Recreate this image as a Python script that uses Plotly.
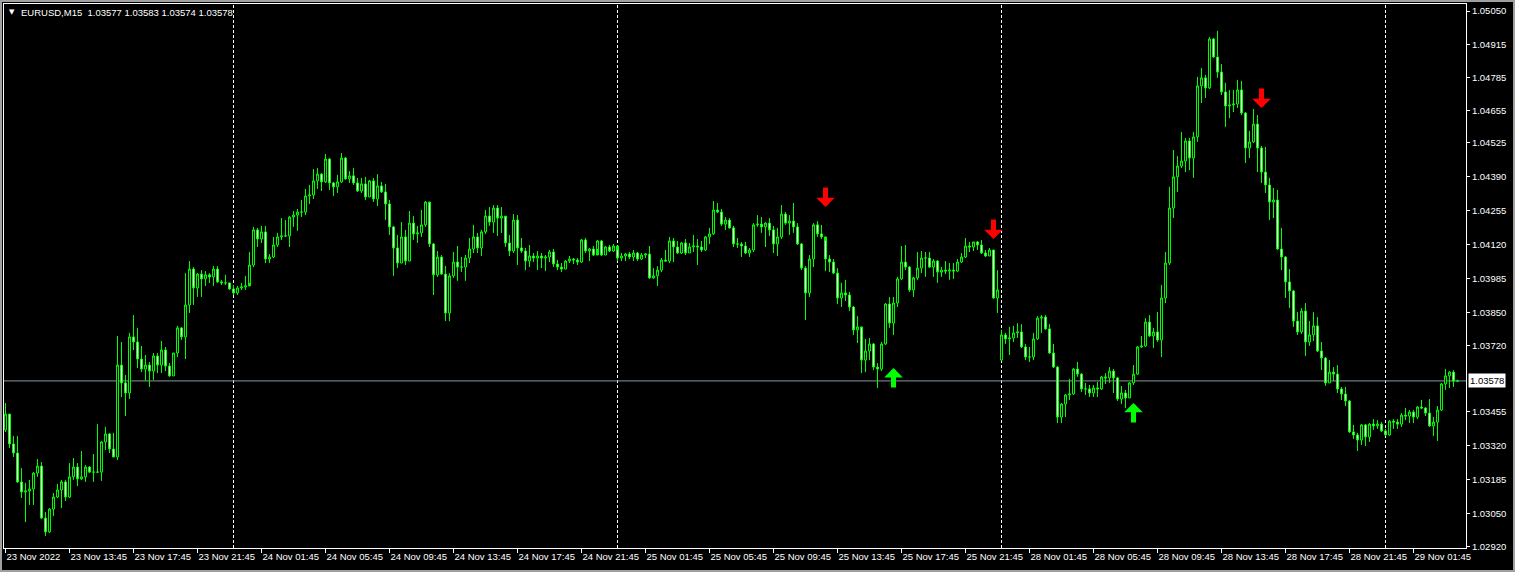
import pandas as pd
import plotly.graph_objects as go

# ---------------- data ----------------
symbol = "EURUSD,M15"
start_time = "2022-11-23 09:45"
first_open = 1.03383
gap_opens = {249: 1.03661}          # Monday open after the weekend gap

closes = [
    1.03446, 1.03327, 1.03291, 1.03176, 1.03136, 1.03140, 1.03148, 1.03211, 1.03239, 1.03032, 1.02977, 1.03068, 1.03116, 1.03144, 1.03176, 1.03116,
    1.03196, 1.03235, 1.03188, 1.03196, 1.03235, 1.03215, 1.03215, 1.03215, 1.03335, 1.03367, 1.03307, 1.03275, 1.03641, 1.03570, 1.03530, 1.03753,
    1.03733, 1.03665, 1.03625, 1.03641, 1.03617, 1.03677, 1.03641, 1.03701, 1.03637, 1.03598, 1.03689, 1.03789, 1.03753, 1.03880, 1.04023, 1.03948,
    1.04003, 1.03984, 1.04000, 1.03992, 1.04023, 1.03972, 1.03968, 1.03968, 1.03944, 1.03928, 1.03948, 1.03952, 1.03956, 1.04039, 1.04179, 1.04143,
    1.04171, 1.04063, 1.04071, 1.04119, 1.04151, 1.04155, 1.04155, 1.04230, 1.04238, 1.04250, 1.04250, 1.04314, 1.04318, 1.04374, 1.04401, 1.04370,
    1.04461, 1.04366, 1.04350, 1.04370, 1.04465, 1.04382, 1.04394, 1.04366, 1.04334, 1.04362, 1.04310, 1.04374, 1.04302, 1.04354, 1.04330, 1.04282,
    1.04191, 1.04107, 1.04047, 1.04151, 1.04055, 1.04206, 1.04163, 1.04167, 1.04199, 1.04290, 1.04123, 1.04000, 1.04071, 1.04003, 1.03848, 1.03996,
    1.04051, 1.04031, 1.04031, 1.04067, 1.04103, 1.04151, 1.04107, 1.04171, 1.04234, 1.04210, 1.04266, 1.04226, 1.04234, 1.04127, 1.04095, 1.04218,
    1.04107, 1.04095, 1.04055, 1.04075, 1.04067, 1.04075, 1.04067, 1.04071, 1.04091, 1.04043, 1.04031, 1.04023, 1.04055, 1.04063, 1.04059, 1.04051,
    1.04139, 1.04095, 1.04103, 1.04079, 1.04135, 1.04079, 1.04111, 1.04095, 1.04115, 1.04067, 1.04075, 1.04083, 1.04071, 1.04087, 1.04063, 1.04079,
    1.04083, 1.03988, 1.03996, 1.04019, 1.04059, 1.04055, 1.04135, 1.04111, 1.04087, 1.04127, 1.04087, 1.04111, 1.04115, 1.04111, 1.04099, 1.04151,
    1.04163, 1.04258, 1.04250, 1.04202, 1.04218, 1.04187, 1.04123, 1.04123, 1.04115, 1.04087, 1.04099, 1.04199, 1.04202, 1.04191, 1.04206, 1.04179,
    1.04123, 1.04151, 1.04242, 1.04206, 1.04214, 1.04191, 1.04123, 1.04027, 1.03928, 1.04063, 1.04199, 1.04163, 1.04151, 1.04063, 1.04051, 1.04007,
    1.03908, 1.03928, 1.03920, 1.03872, 1.03781, 1.03793, 1.03661, 1.03697, 1.03725, 1.03633, 1.03625, 1.03725, 1.03884, 1.03808, 1.03888, 1.03984,
    1.04051, 1.04031, 1.03940, 1.03988, 1.04027, 1.04067, 1.04067, 1.04031, 1.04055, 1.04011, 1.04019, 1.04015, 1.04019, 1.04015, 1.04051, 1.04071,
    1.04115, 1.04111, 1.04131, 1.04119, 1.04087, 1.04075, 1.04099, 1.03908, 1.03940, 1.03761, 1.03745, 1.03749, 1.03769, 1.03773, 1.03713, 1.03673,
    1.03673, 1.03745, 1.03828, 1.03832, 1.03785, 1.03689, 1.03633, 1.03434, 1.03486, 1.03522, 1.03526, 1.03625, 1.03605, 1.03546, 1.03546, 1.03530,
    1.03550, 1.03546, 1.03594, 1.03590, 1.03617, 1.03590, 1.03506, 1.03530, 1.03510, 1.03570, 1.03605, 1.03713, 1.03717, 1.03812, 1.03757, 1.03773,
    1.03741, 1.03908, 1.04047, 1.04266, 1.04390, 1.04433, 1.04453, 1.04533, 1.04465, 1.04549, 1.04752, 1.04784, 1.04744, 1.04939, 1.04867, 1.04807,
    1.04728, 1.04672, 1.04676, 1.04680, 1.04736, 1.04644, 1.04505, 1.04529, 1.04600, 1.04505, 1.04409, 1.04358, 1.04290, 1.04298, 1.04103, 1.04071,
    1.03972, 1.03936, 1.03816, 1.03773, 1.03856, 1.03733, 1.03761, 1.03797, 1.03697, 1.03669, 1.03570, 1.03613, 1.03605, 1.03546, 1.03526, 1.03498,
    1.03375, 1.03363, 1.03343, 1.03403, 1.03355, 1.03406, 1.03399, 1.03406, 1.03379, 1.03363, 1.03418, 1.03414, 1.03406, 1.03442, 1.03438, 1.03454,
    1.03434, 1.03474, 1.03470, 1.03450, 1.03399, 1.03414, 1.03462, 1.03566, 1.03598, 1.03613, 1.03577, 1.03578,
]

highs = [
    1.03490, 1.03446, 1.03359, 1.03359, 1.03231, 1.03172, 1.03184, 1.03215, 1.03267, 1.03255, 1.03056, 1.03072, 1.03132, 1.03168, 1.03184, 1.03184,
    1.03251, 1.03271, 1.03251, 1.03299, 1.03243, 1.03239, 1.03287, 1.03406, 1.03339, 1.03395, 1.03371, 1.03371, 1.03757, 1.03733, 1.03602, 1.03769,
    1.03840, 1.03789, 1.03717, 1.03681, 1.03653, 1.03689, 1.03689, 1.03737, 1.03713, 1.03649, 1.03689, 1.03797, 1.03793, 1.04007, 1.04055, 1.04031,
    1.04007, 1.04019, 1.04015, 1.04007, 1.04035, 1.04035, 1.03980, 1.04000, 1.03968, 1.03960, 1.03956, 1.03968, 1.03996, 1.04091, 1.04191, 1.04187,
    1.04195, 1.04195, 1.04083, 1.04151, 1.04167, 1.04226, 1.04218, 1.04234, 1.04254, 1.04262, 1.04298, 1.04342, 1.04358, 1.04421, 1.04425, 1.04405,
    1.04481, 1.04465, 1.04370, 1.04398, 1.04485, 1.04469, 1.04413, 1.04425, 1.04386, 1.04386, 1.04390, 1.04378, 1.04386, 1.04401, 1.04370, 1.04362,
    1.04298, 1.04195, 1.04159, 1.04210, 1.04179, 1.04254, 1.04234, 1.04195, 1.04258, 1.04294, 1.04286, 1.04127, 1.04095, 1.04079, 1.04035, 1.04007,
    1.04091, 1.04115, 1.04071, 1.04079, 1.04147, 1.04199, 1.04167, 1.04179, 1.04258, 1.04270, 1.04278, 1.04278, 1.04270, 1.04230, 1.04159, 1.04242,
    1.04238, 1.04147, 1.04107, 1.04119, 1.04087, 1.04095, 1.04087, 1.04079, 1.04099, 1.04103, 1.04059, 1.04047, 1.04059, 1.04075, 1.04067, 1.04067,
    1.04143, 1.04147, 1.04107, 1.04115, 1.04139, 1.04139, 1.04115, 1.04119, 1.04123, 1.04099, 1.04087, 1.04087, 1.04091, 1.04099, 1.04091, 1.04087,
    1.04087, 1.04115, 1.04027, 1.04035, 1.04067, 1.04099, 1.04151, 1.04147, 1.04135, 1.04131, 1.04143, 1.04127, 1.04159, 1.04143, 1.04135, 1.04155,
    1.04187, 1.04294, 1.04286, 1.04262, 1.04230, 1.04226, 1.04195, 1.04147, 1.04131, 1.04131, 1.04107, 1.04206, 1.04238, 1.04230, 1.04210, 1.04226,
    1.04195, 1.04187, 1.04278, 1.04250, 1.04238, 1.04286, 1.04206, 1.04127, 1.04035, 1.04079, 1.04206, 1.04214, 1.04199, 1.04135, 1.04079, 1.04063,
    1.04027, 1.03968, 1.03980, 1.03932, 1.03876, 1.03836, 1.03789, 1.03745, 1.03749, 1.03729, 1.03649, 1.03733, 1.03888, 1.03912, 1.03912, 1.03992,
    1.04115, 1.04119, 1.04035, 1.03992, 1.04091, 1.04095, 1.04091, 1.04091, 1.04063, 1.04059, 1.04031, 1.04055, 1.04047, 1.04047, 1.04063, 1.04087,
    1.04147, 1.04131, 1.04131, 1.04135, 1.04139, 1.04099, 1.04107, 1.04099, 1.04019, 1.03781, 1.03769, 1.03793, 1.03797, 1.03808, 1.03804, 1.03725,
    1.03713, 1.03769, 1.03836, 1.03840, 1.03840, 1.03804, 1.03725, 1.03637, 1.03490, 1.03526, 1.03586, 1.03629, 1.03653, 1.03609, 1.03570, 1.03562,
    1.03562, 1.03574, 1.03598, 1.03609, 1.03633, 1.03625, 1.03594, 1.03558, 1.03542, 1.03574, 1.03641, 1.03717, 1.03757, 1.03828, 1.03840, 1.03789,
    1.03852, 1.03960, 1.04091, 1.04350, 1.04497, 1.04473, 1.04569, 1.04545, 1.04545, 1.04569, 1.04788, 1.04823, 1.04796, 1.04947, 1.04943, 1.04971,
    1.04839, 1.04764, 1.04736, 1.04736, 1.04776, 1.04772, 1.04648, 1.04573, 1.04660, 1.04636, 1.04513, 1.04509, 1.04386, 1.04346, 1.04338, 1.04187,
    1.04075, 1.04023, 1.03940, 1.03852, 1.03868, 1.03888, 1.03816, 1.03852, 1.03832, 1.03733, 1.03673, 1.03661, 1.03633, 1.03641, 1.03554, 1.03554,
    1.03502, 1.03403, 1.03371, 1.03406, 1.03406, 1.03410, 1.03426, 1.03422, 1.03414, 1.03387, 1.03422, 1.03426, 1.03426, 1.03450, 1.03470, 1.03462,
    1.03462, 1.03478, 1.03502, 1.03474, 1.03506, 1.03434, 1.03478, 1.03570, 1.03625, 1.03617, 1.03621, 1.03583,
]

lows = [
    1.03375, 1.03311, 1.03275, 1.03172, 1.03112, 1.03016, 1.03084, 1.03084, 1.03196, 1.03028, 1.02961, 1.02973, 1.03040, 1.03112, 1.03072, 1.03100,
    1.03112, 1.03184, 1.03160, 1.03184, 1.03176, 1.03211, 1.03176, 1.03211, 1.03180, 1.03303, 1.03291, 1.03275, 1.03263, 1.03514, 1.03438, 1.03506,
    1.03701, 1.03629, 1.03613, 1.03578, 1.03554, 1.03582, 1.03609, 1.03609, 1.03617, 1.03594, 1.03598, 1.03673, 1.03741, 1.03665, 1.03848, 1.03880,
    1.03912, 1.03912, 1.03956, 1.03968, 1.03956, 1.03968, 1.03960, 1.03960, 1.03940, 1.03920, 1.03920, 1.03940, 1.03940, 1.03968, 1.04031, 1.04111,
    1.04127, 1.04047, 1.04047, 1.04067, 1.04111, 1.04139, 1.04151, 1.04111, 1.04191, 1.04175, 1.04230, 1.04238, 1.04282, 1.04302, 1.04342, 1.04334,
    1.04366, 1.04338, 1.04314, 1.04326, 1.04366, 1.04378, 1.04366, 1.04358, 1.04330, 1.04326, 1.04298, 1.04310, 1.04290, 1.04274, 1.04326, 1.04218,
    1.04159, 1.03996, 1.04027, 1.04047, 1.04039, 1.04055, 1.04139, 1.04127, 1.04151, 1.04191, 1.04111, 1.03920, 1.03992, 1.04000, 1.03816, 1.03816,
    1.03988, 1.03976, 1.04011, 1.03976, 1.04047, 1.04087, 1.04087, 1.04075, 1.04163, 1.04195, 1.04167, 1.04155, 1.04167, 1.04111, 1.04075, 1.04087,
    1.04039, 1.04087, 1.04019, 1.04031, 1.04051, 1.04019, 1.04027, 1.04015, 1.04051, 1.04031, 1.04019, 1.04011, 1.04023, 1.04047, 1.04043, 1.04039,
    1.04047, 1.04087, 1.04055, 1.04075, 1.04103, 1.04075, 1.04079, 1.04091, 1.04091, 1.04055, 1.04055, 1.04055, 1.04063, 1.04055, 1.04055, 1.04059,
    1.04067, 1.03984, 1.03984, 1.03956, 1.04011, 1.04051, 1.04047, 1.04051, 1.04083, 1.04083, 1.04079, 1.04087, 1.04091, 1.04039, 1.04091, 1.04095,
    1.04123, 1.04159, 1.04246, 1.04195, 1.04179, 1.04183, 1.04111, 1.04107, 1.04071, 1.04083, 1.04071, 1.04091, 1.04191, 1.04167, 1.04111, 1.04155,
    1.04087, 1.04075, 1.04143, 1.04199, 1.04159, 1.04167, 1.04119, 1.04019, 1.03820, 1.03912, 1.04031, 1.04151, 1.04143, 1.04015, 1.04011, 1.04003,
    1.03884, 1.03872, 1.03896, 1.03856, 1.03761, 1.03729, 1.03609, 1.03613, 1.03661, 1.03621, 1.03550, 1.03617, 1.03721, 1.03789, 1.03761, 1.03872,
    1.03980, 1.04019, 1.03932, 1.03912, 1.03980, 1.04007, 1.03992, 1.04027, 1.03992, 1.03968, 1.03992, 1.04003, 1.03980, 1.03984, 1.04011, 1.04047,
    1.04067, 1.04091, 1.04095, 1.04099, 1.04083, 1.04071, 1.04075, 1.03904, 1.03848, 1.03657, 1.03725, 1.03681, 1.03733, 1.03749, 1.03709, 1.03661,
    1.03653, 1.03661, 1.03741, 1.03769, 1.03781, 1.03685, 1.03629, 1.03410, 1.03410, 1.03434, 1.03502, 1.03522, 1.03594, 1.03534, 1.03522, 1.03514,
    1.03514, 1.03514, 1.03542, 1.03566, 1.03570, 1.03530, 1.03498, 1.03486, 1.03470, 1.03510, 1.03562, 1.03602, 1.03709, 1.03713, 1.03753, 1.03709,
    1.03733, 1.03673, 1.03888, 1.04039, 1.04226, 1.04330, 1.04425, 1.04409, 1.04417, 1.04386, 1.04529, 1.04684, 1.04704, 1.04740, 1.04863, 1.04784,
    1.04716, 1.04589, 1.04624, 1.04648, 1.04664, 1.04636, 1.04445, 1.04465, 1.04525, 1.04409, 1.04366, 1.04326, 1.04218, 1.04226, 1.04099, 1.04019,
    1.03908, 1.03868, 1.03793, 1.03761, 1.03765, 1.03677, 1.03717, 1.03737, 1.03693, 1.03621, 1.03558, 1.03570, 1.03578, 1.03530, 1.03502, 1.03478,
    1.03371, 1.03347, 1.03299, 1.03323, 1.03319, 1.03335, 1.03383, 1.03387, 1.03375, 1.03359, 1.03359, 1.03387, 1.03387, 1.03395, 1.03422, 1.03410,
    1.03410, 1.03426, 1.03466, 1.03438, 1.03395, 1.03359, 1.03339, 1.03458, 1.03542, 1.03550, 1.03554, 1.03574,
]

sell_bars = [205, 247, 314]
sell_tips = [1.04270, 1.04143, 1.04664]
buy_bars = [222, 282]
buy_tips = [1.03629, 1.03490]

price_ticks = [1.05050, 1.04915, 1.04785, 1.04655, 1.04525, 1.04390, 1.04255, 1.04120,
               1.03985, 1.03850, 1.03720, 1.03455, 1.03320, 1.03185, 1.03050, 1.02920]
bid = 1.03578

# ---------------- build ----------------
n = len(closes)
times = pd.date_range(start_time, periods=n * 2, freq="15min")
times = times[times.dayofweek < 5][:n]
opens = [first_open] + closes[:-1]
for k, v in gap_opens.items():
    opens[k] = v
xs = list(range(n))

tick_idx = list(range(0, n, 16))
tick_txt = [times[i].strftime("%d %b %Y") if i == 0 else times[i].strftime("%d %b %H:%M") for i in tick_idx]
day_starts = [i for i in range(1, n) if times[i].hour == 0 and times[i].minute == 0]

LIME = "#00ff00"
FONT = "Liberation Sans, Arial, sans-serif"
W, H = 1515, 572
ML, MR, MT, MB = 4, 49, 4, 24
PW, PH = W - ML - MR, H - MT - MB

fig = go.Figure(go.Candlestick(
    x=xs, open=opens, high=highs, low=lows, close=closes,
    increasing=dict(line=dict(color=LIME, width=1), fillcolor="#000000"),
    decreasing=dict(line=dict(color=LIME, width=1), fillcolor="#ffffff"),
    whiskerwidth=0, hoverinfo="skip", showlegend=False,
))

shapes = []
for d in day_starts:
    shapes.append(dict(type="line", xref="x", yref="paper", x0=d, x1=d, y0=0, y1=1,
                       line=dict(color="white", width=1, dash="3px,2px"), layer="below"))
shapes.append(dict(type="line", xref="paper", yref="y", x0=0, x1=1, y0=bid, y1=bid,
                   line=dict(color="#8a96a3", width=1), layer="below"))
# outer window frame
shapes.append(dict(type="rect", xref="paper", yref="paper",
                   x0=-(ML - 1) / PW, x1=1 + (MR - 1) / PW, y0=-(MB - 1) / PH, y1=1 + (MT - 1) / PH,
                   line=dict(color="#a0a0a0", width=2), fillcolor="rgba(0,0,0,0)"))

annotations = []
for b, p in zip(sell_bars, sell_tips):
    annotations.append(dict(x=b, y=p, xref="x", yref="y", text="", showarrow=True,
                            ax=0, ay=-21, arrowcolor="#ff0000", arrowwidth=5,
                            arrowhead=1, arrowsize=0.62, standoff=0))
for b, p in zip(buy_bars, buy_tips):
    annotations.append(dict(x=b, y=p, xref="x", yref="y", text="", showarrow=True,
                            ax=0, ay=21, arrowcolor="#00ff00", arrowwidth=5,
                            arrowhead=1, arrowsize=0.62, standoff=0))
annotations.append(dict(x=1, xref="paper", y=bid, yref="y", xanchor="left", yanchor="middle",
                        text=f"{bid:.5f}", showarrow=False, bgcolor="white", borderpad=1,
                        xshift=2, font=dict(family=FONT, size=9.5, color="black")))
annotations.append(dict(x=0, xref="paper", y=1, yref="paper", xanchor="left", yanchor="top",
                        text="\u25BC", showarrow=False, xshift=3, yshift=-2,
                        font=dict(family="DejaVu Sans", size=7, color="white")))
header = f"{symbol}\u00a0\u00a0{opens[-1]:.5f} {highs[-1]:.5f} {lows[-1]:.5f} {closes[-1]:.5f}"
annotations.append(dict(x=0, xref="paper", y=1, yref="paper", xanchor="left", yanchor="top",
                        text=header, showarrow=False, xshift=15, yshift=-1,
                        font=dict(family=FONT, size=9.5, color="white")))

tickfont = dict(family=FONT, size=9.5, color="white")
fig.update_layout(
    width=W, height=H,
    margin=dict(l=ML, r=MR, t=MT, b=MB, pad=0, autoexpand=False),
    paper_bgcolor="black", plot_bgcolor="black",
    showlegend=False, hovermode=False,
    shapes=shapes, annotations=annotations,
    xaxis=dict(range=[-0.375, 365.125], rangeslider=dict(visible=False),
               tickmode="array", tickvals=tick_idx, ticktext=tick_txt, tickangle=0,
               ticks="outside", ticklen=4, tickcolor="white", tickwidth=1,
               ticklabelposition="outside right", tickfont=tickfont, automargin=False,
               showgrid=False, zeroline=False, showline=True, linecolor="white",
               linewidth=1, mirror=True, fixedrange=True),
    yaxis=dict(side="right", range=[1.02913, 1.05078], tickmode="array",
               tickvals=price_ticks, ticktext=[f"{v:.5f}" for v in price_ticks],
               ticks="outside", ticklen=3, tickcolor="white", tickwidth=1, automargin=False,
               tickfont=tickfont, showgrid=False, zeroline=False, showline=True,
               linecolor="white", linewidth=1, mirror=True, fixedrange=True),
)

fig.write_html("out.html", post_script="document.body.style.margin='0px';",
               config={"displayModeBar": False})
